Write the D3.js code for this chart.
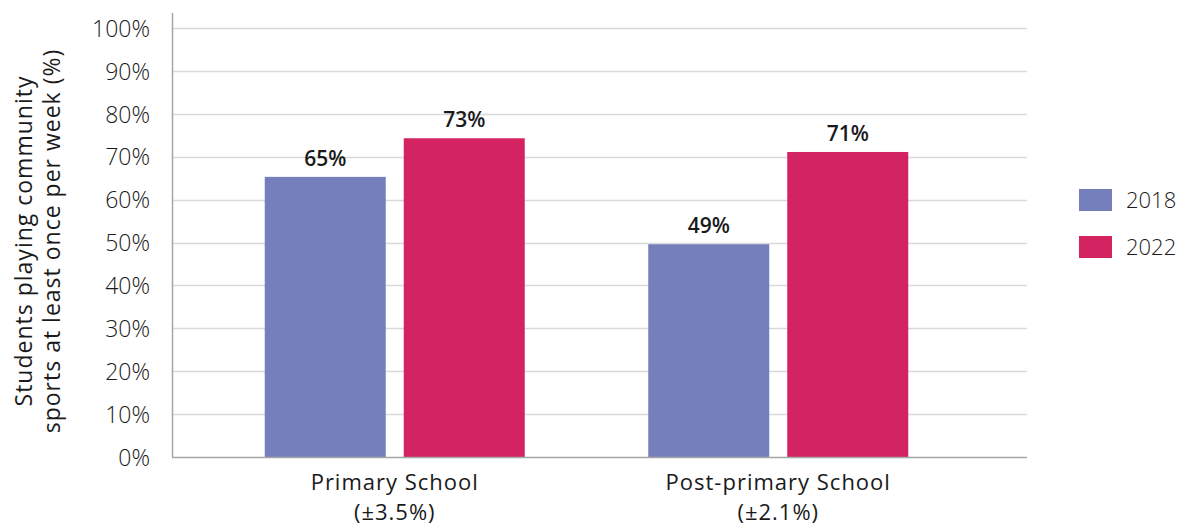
<!DOCTYPE html>
<html>
<head>
<meta charset="utf-8">
<script src="https://cdn.jsdelivr.net/npm/d3@7"></script>
<style>
  body { margin: 0; background: #fff; }
  text { font-family: "Open Sans", Lato, sans-serif; fill: #1a1a1a; }
</style>
</head>
<body>
<script>
// Data
var categories = ['Primary School', 'Post-primary School'];
var categoryNotes = ['(±3.5%)', '(±2.1%)'];
var years = ['2018', '2022'];
var values2018 = [65.3, 49.6];
var values2022 = [74.3, 71.1];
var labels2018 = ['65%', '49%'];
var labels2022 = ['73%', '71%'];
var yTicks = [0, 10, 20, 30, 40, 50, 60, 70, 80, 90, 100];
var colors = ['#747fbc', '#d42361'];

// Set dimensions
var width = 1181, height = 525;
var plot = {left: 172, right: 1027, top: 28, bottom: 457};

var svg = d3.select('body').append('svg')
    .attr('width', width)
    .attr('height', height);

// Scales
var y = d3.scaleLinear().domain([0, 100]).range([plot.bottom, plot.top]);
var x0 = d3.scaleBand().domain(categories).range([203, 970]).paddingInner(0).paddingOuter(0);
var x1 = d3.scaleBand().domain(years).range([0, 260]).paddingInner(18 / 139);

// Gridlines
svg.append('g')
    .selectAll('line')
    .data(yTicks.filter(function(d) { return d > 0; }))
    .enter().append('line')
    .attr('x1', plot.left)
    .attr('x2', plot.right)
    .attr('y1', function(d) { return Math.round(y(d)) + 0.5; })
    .attr('y2', function(d) { return Math.round(y(d)) + 0.5; })
    .attr('stroke', '#d9d9d9')
    .attr('stroke-width', 1.5);

// Y axis
var yAxis = svg.append('g')
    .attr('transform', 'translate(' + plot.left + ',0)')
    .call(d3.axisLeft(y).tickValues(yTicks).tickSize(0).tickPadding(22)
        .tickFormat(function(d) { return d + '%'; }));
yAxis.select('.domain').remove();
yAxis.selectAll('text')
    .style('font-size', '23px')
    .style('font-weight', 300)
    .attr('dy', '0.36em');

// Bars
var rows = categories.map(function(c, i) {
    return {cat: c, vals: [
        {year: years[0], v: values2018[i], label: labels2018[i]},
        {year: years[1], v: values2022[i], label: labels2022[i]}
    ]};
});

var groups = svg.append('g').selectAll('g')
    .data(rows)
    .enter().append('g')
    .attr('transform', function(d) {
        return 'translate(' + (x0(d.cat) + x0.bandwidth() / 2 - 130) + ',0)';
    });

groups.selectAll('rect')
    .data(function(d) { return d.vals; })
    .enter().append('rect')
    .attr('x', function(d) { return x1(d.year); })
    .attr('width', x1.bandwidth())
    .attr('y', function(d) { return y(d.v); })
    .attr('height', function(d) { return plot.bottom - y(d.v); })
    .attr('fill', function(d, i) { return colors[i]; });

groups.selectAll('text.val')
    .data(function(d) { return d.vals; })
    .enter().append('text')
    .attr('class', 'val')
    .attr('x', function(d) { return x1(d.year) + x1.bandwidth() / 2; })
    .attr('y', function(d) { return y(d.v) - 11; })
    .attr('text-anchor', 'middle')
    .style('font-size', '21px')
    .style('font-weight', 600)
    .text(function(d) { return d.label; });

// Axis lines
svg.append('line')
    .attr('x1', plot.left + 0.5).attr('x2', plot.left + 0.5)
    .attr('y1', 13).attr('y2', plot.bottom)
    .attr('stroke', '#a6a6a6').attr('stroke-width', 1.5);
svg.append('line')
    .attr('x1', plot.left).attr('x2', plot.right)
    .attr('y1', plot.bottom + 0.5).attr('y2', plot.bottom + 0.5)
    .attr('stroke', '#a6a6a6').attr('stroke-width', 1.5);

// X labels
var xl = svg.append('g').selectAll('text')
    .data(categories)
    .enter().append('text')
    .attr('text-anchor', 'middle')
    .attr('x', function(d) { return x0(d) + x0.bandwidth() / 2; })
    .attr('y', 490)
    .style('font-size', '22px')
    .style('letter-spacing', '1px');
xl.append('tspan').text(function(d) { return d; });
xl.append('tspan')
    .attr('x', function(d) { return x0(d) + x0.bandwidth() / 2; })
    .attr('dy', 30)
    .text(function(d, i) { return categoryNotes[i]; });

// Y axis title
var title = svg.append('text')
    .attr('transform', 'translate(32,' + 241 + ') rotate(-90)')
    .attr('text-anchor', 'middle')
    .style('font-size', '23px')
    .style('letter-spacing', '1px');
title.append('tspan').attr('x', 0).attr('y', 0).text('Students playing community');
title.append('tspan').attr('x', 0).attr('dy', 28).text('sports at least once per week (%)');

// Legend
var legend = svg.append('g').selectAll('g')
    .data(years)
    .enter().append('g')
    .attr('transform', function(d, i) { return 'translate(1079,' + (189 + i * 47) + ')'; });
legend.append('rect')
    .attr('width', 33).attr('height', 22)
    .attr('fill', function(d, i) { return colors[i]; });
legend.append('text')
    .attr('x', 47).attr('y', 11).attr('dy', '0.36em')
    .style('font-size', '22px')
    .style('font-weight', 300)
    .text(function(d) { return d; });
</script>
</body>
</html>
